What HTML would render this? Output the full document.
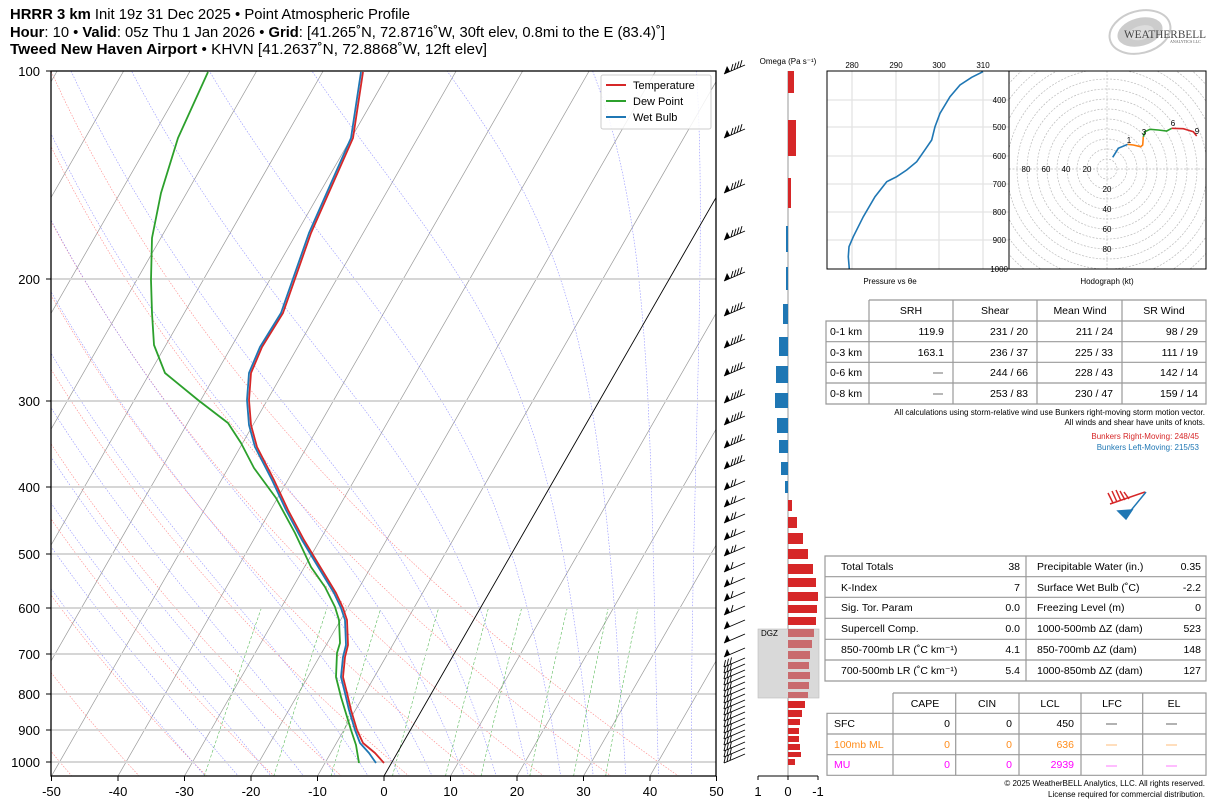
<!DOCTYPE html>
<html><head><meta charset="utf-8"><style>
html,body{margin:0;padding:0;background:#fff;}
svg{display:block;font-family:"Liberation Sans",sans-serif;}
</style></head><body>
<svg id="s" width="1226" height="808" viewBox="0 0 1226 808" xmlns="http://www.w3.org/2000/svg">
<defs>
<clipPath id="cp"><rect x="51" y="71" width="665" height="705"/></clipPath>
<clipPath id="ct"><rect x="827" y="71" width="182" height="198"/></clipPath>
<clipPath id="ch"><rect x="1009" y="71" width="197" height="198"/></clipPath>
</defs>
<rect width="1226" height="808" fill="#fff"/>
<!-- header -->
<text x="10" y="19" font-size="14.5" textLength="400" lengthAdjust="spacingAndGlyphs"><tspan font-weight="bold">HRRR 3 km</tspan> Init 19z 31 Dec 2025 • Point Atmospheric Profile</text>
<text x="10" y="37" font-size="14.5" textLength="655" lengthAdjust="spacingAndGlyphs"><tspan font-weight="bold">Hour</tspan>: 10 • <tspan font-weight="bold">Valid</tspan>: 05z Thu 1 Jan 2026 • <tspan font-weight="bold">Grid</tspan>: [41.265˚N, 72.8716˚W, 30ft elev, 0.8mi to the E (83.4)˚]</text>
<text x="10" y="54" font-size="14.5" textLength="477" lengthAdjust="spacingAndGlyphs"><tspan font-weight="bold">Tweed New Haven Airport</tspan> • KHVN [41.2637˚N, 72.8868˚W, 12ft elev]</text>
<!-- logo -->
<ellipse cx="1140" cy="32" rx="31" ry="21" fill="none" stroke="#ccc" stroke-width="2" transform="rotate(-15 1140 32)"/>
<ellipse cx="1140" cy="32" rx="23" ry="14" fill="#aaa" opacity="0.6" transform="rotate(-15 1140 32)"/>
<ellipse cx="1141" cy="33" rx="13" ry="7" fill="#ddd" transform="rotate(-15 1140 32)"/>
<text x="1124" y="38" font-family="Liberation Serif,serif" font-size="12" fill="#444" textLength="82" lengthAdjust="spacingAndGlyphs">WEATHERBELL</text>
<text x="1170" y="43" font-family="Liberation Serif,serif" font-size="4" fill="#555">ANALYTICS LLC</text>

<!-- skew-T background -->
<g id="bg" clip-path="url(#cp)"></g>
<g stroke="#d6d6d6" stroke-width="2">
<line x1="51" x2="716" y1="279" y2="279"/><line x1="51" x2="716" y1="401" y2="401"/><line x1="51" x2="716" y1="487" y2="487"/>
<line x1="51" x2="716" y1="554" y2="554"/><line x1="51" x2="716" y1="608" y2="608"/><line x1="51" x2="716" y1="654" y2="654"/>
<line x1="51" x2="716" y1="694" y2="694"/><line x1="51" x2="716" y1="730" y2="730"/><line x1="51" x2="716" y1="762" y2="762"/>
</g>
<g id="iso" clip-path="url(#cp)"></g>
<!-- profiles -->
<g fill="none" stroke-width="1.8" stroke-linejoin="round" clip-path="url(#cp)">
<polyline stroke="#2ca02c" points="208,72 178,138 161,193 152,238 151,280 152,313 154,345 165,373 198,400 228,423 241,443 254,468 276,498 295,533 311,567 325,587 335,607 339,620 340,643 337,653 336,677 341,697 351,730 356,745 359,763"/>
<polyline stroke="#d62728" points="363,72 353,138 330,190 311,233 283,313 262,347 251,373 249,400 251,425 257,447 274,480 288,510 304,540 316,560 336,593 343,608 347,620 348,645 345,657 343,677 347,693 351,710 357,730 363,743 375,753 384,763"/>
<polyline stroke="#1f77b4" points="361,72 351,138 328,190 309,233 281,313 260,347 249,373 247,400 249,425 255,447 272,480 286,510 302,540 314,560 334,593 341,608 345,620 346,645 343,657 341,677 345,693 349,710 355,730 360,743 369,753 376,763"/>
</g>
<rect x="51" y="71" width="665" height="705" fill="none" stroke="#000" stroke-width="1.3"/>
<!-- legend -->
<rect x="601" y="75" width="110" height="54" rx="2" fill="#fff" fill-opacity="0.85" stroke="#ccc"/>
<line x1="606" x2="626" y1="85" y2="85" stroke="#d62728" stroke-width="2"/>
<line x1="606" x2="626" y1="101" y2="101" stroke="#2ca02c" stroke-width="2"/>
<line x1="606" x2="626" y1="117" y2="117" stroke="#1f77b4" stroke-width="2"/>
<g font-size="11"><text x="633" y="89">Temperature</text><text x="633" y="105">Dew Point</text><text x="633" y="121">Wet Bulb</text></g>
<!-- axis labels -->
<g font-size="13" text-anchor="end">
<text x="40" y="76">100</text><text x="40" y="284">200</text><text x="40" y="406">300</text><text x="40" y="492">400</text>
<text x="40" y="559">500</text><text x="40" y="613">600</text><text x="40" y="659">700</text><text x="40" y="699">800</text>
<text x="40" y="735">900</text><text x="40" y="767">1000</text>
</g>
<g stroke="#000"><line x1="46" x2="51" y1="71" y2="71"/><line x1="46" x2="51" y1="279" y2="279"/><line x1="46" x2="51" y1="401" y2="401"/><line x1="46" x2="51" y1="487" y2="487"/><line x1="46" x2="51" y1="554" y2="554"/><line x1="46" x2="51" y1="608" y2="608"/><line x1="46" x2="51" y1="654" y2="654"/><line x1="46" x2="51" y1="694" y2="694"/><line x1="46" x2="51" y1="730" y2="730"/><line x1="46" x2="51" y1="762" y2="762"/></g>
<g id="xt" font-size="13" text-anchor="middle"></g>

<!-- wind barbs -->
<g id="barbs" stroke="#000" stroke-width="0.9" fill="#000"></g>

<!-- omega -->
<text x="788" y="64" font-size="8" text-anchor="middle">Omega (Pa s⁻¹)</text>
<line x1="788" x2="788" y1="71" y2="776" stroke="#ccc" stroke-width="2"/>
<rect x="758" y="629" width="61" height="69" fill="#d9d9d9" stroke="#bbb" stroke-width="0.6"/>
<text x="761" y="636" font-size="8">DGZ</text>
<g id="om"></g>
<line x1="758" x2="818" y1="776" y2="776" stroke="#000"/>
<g stroke="#000"><line x1="758" x2="758" y1="776" y2="780"/><line x1="788" x2="788" y1="776" y2="780"/><line x1="818" x2="818" y1="776" y2="780"/></g>
<g font-size="13" text-anchor="middle"><text x="758" y="796">1</text><text x="788" y="796">0</text><text x="818" y="796">-1</text></g>

<!-- theta-e inset -->
<g stroke="#e3e3e3" stroke-width="1.3">
<line x1="852" x2="852" y1="71" y2="269"/><line x1="896" x2="896" y1="71" y2="269"/><line x1="939" x2="939" y1="71" y2="269"/><line x1="983" x2="983" y1="71" y2="269"/>
<line x1="827" x2="1009" y1="100" y2="100"/><line x1="827" x2="1009" y1="127" y2="127"/><line x1="827" x2="1009" y1="156" y2="156"/><line x1="827" x2="1009" y1="184" y2="184"/><line x1="827" x2="1009" y1="212" y2="212"/><line x1="827" x2="1009" y1="240" y2="240"/>
</g>
<polyline clip-path="url(#ct)" fill="none" stroke="#1f77b4" stroke-width="1.6" points="983,71.7 971.7,77.3 960,85 950,96.7 940,113.3 935,126.7 931.7,140 926,148.3 916.7,161.7 906.7,170 896.7,176.7 886.7,181.7 875,196.7 863.3,216.7 853.3,236.7 849,246.7 848.3,256.7 849.3,269"/>
<g font-size="8" text-anchor="middle"><text x="852" y="68">280</text><text x="896" y="68">290</text><text x="939" y="68">300</text><text x="983" y="68">310</text>
<text x="890" y="284">Pressure vs θe</text><text x="1107" y="284">Hodograph (kt)</text></g>
<g font-size="8" text-anchor="end"><text x="1006" y="103">400</text><text x="1006" y="130">500</text><text x="1006" y="159">600</text><text x="1006" y="187">700</text><text x="1006" y="215">800</text><text x="1006" y="243">900</text><text x="1008" y="272">1000</text></g>
<g id="hod" clip-path="url(#ch)" fill="none" stroke="#bbb" stroke-width="0.7" stroke-dasharray="2,1.5"></g>
<g font-size="8" text-anchor="middle"><text x="1087" y="172">20</text><text x="1066" y="172">40</text><text x="1046" y="172">60</text><text x="1026" y="172">80</text>
<text x="1107" y="192">20</text><text x="1107" y="212">40</text><text x="1107" y="232">60</text><text x="1107" y="252">80</text></g>
<g fill="none" stroke-width="1.6">
<polyline stroke="#1f77b4" points="1112.7,157.3 1118.3,148.3 1127.7,144.3"/>
<polyline stroke="#ff7f0e" points="1127.7,144.3 1133.3,145 1140.7,146.7 1142.7,145 1143.3,136.7"/>
<polyline stroke="#2ca02c" points="1143.3,136.7 1145,131.7 1150,129.3 1158.3,130 1166.7,131 1171.7,128.3"/>
<polyline stroke="#d62728" points="1171.7,128.3 1183.3,128.7 1193.3,131.7 1196.7,136"/>
</g>
<g font-size="8" text-anchor="middle"><text x="1129" y="143">1</text><text x="1144" y="135">3</text><text x="1173" y="126">6</text><text x="1197" y="134">9</text></g>
<rect x="827" y="71" width="182" height="198" fill="none" stroke="#000"/>
<rect x="1009" y="71" width="197" height="198" fill="none" stroke="#000"/>

<!-- wind table -->
<g fill="none" stroke="#999" stroke-width="1.2">
<path d="M869,300 H1206 V404 H826 V321 H1206 M826,341.7 H1206 M826,362.3 H1206 M826,383 H1206 M869,300 V404 M953,300 V404 M1037,300 V404 M1122,300 V404"/>
</g>
<g font-size="10.5" text-anchor="middle"><text x="911" y="314">SRH</text><text x="995" y="314">Shear</text><text x="1080" y="314">Mean Wind</text><text x="1164" y="314">SR Wind</text></g>
<g font-size="10.5"><text x="830" y="335">0-1 km</text><text x="830" y="356">0-3 km</text><text x="830" y="376">0-6 km</text><text x="830" y="397">0-8 km</text></g>
<g font-size="10.5" text-anchor="end">
<text x="944" y="335">119.9</text><text x="1028" y="335">231 / 20</text><text x="1113" y="335">211 / 24</text><text x="1198" y="335">98 / 29</text>
<text x="944" y="356">163.1</text><text x="1028" y="356">236 / 37</text><text x="1113" y="356">225 / 33</text><text x="1198" y="356">111 / 19</text>
<text x="1028" y="376">244 / 66</text><text x="1113" y="376">228 / 43</text><text x="1198" y="376">142 / 14</text>
<text x="1028" y="397">253 / 83</text><text x="1113" y="397">230 / 47</text><text x="1198" y="397">159 / 14</text>
</g>
<g stroke="#888" stroke-width="1.2"><line x1="933" x2="943" y1="373" y2="373"/><line x1="933" x2="943" y1="394" y2="394"/></g>
<g font-size="8" text-anchor="end"><text x="1205" y="415">All calculations using storm-relative wind use Bunkers right-moving storm motion vector.</text>
<text x="1205" y="425">All winds and shear have units of knots.</text>
<text x="1199" y="439" fill="#d62728">Bunkers Right-Moving: 248/45</text><text x="1199" y="450" fill="#1f77b4">Bunkers Left-Moving: 215/53</text></g>
<!-- bunkers glyph -->
<g stroke="#d62728" stroke-width="1.5" fill="none"><path d="M1110,504 L1145,492 M1108,493 L1113,503 M1112,491 L1117,502 M1116,490 L1121,501 M1120,491 L1125,500 M1124,492 L1129,499"/></g>
<g stroke="#1f77b4" stroke-width="1.5" fill="#1f77b4"><path d="M1146,492 L1128,514" fill="none"/><path d="M1118,511 L1132,510 L1126,519 Z"/></g>

<!-- stats table -->
<g fill="none" stroke="#999" stroke-width="1.2">
<path d="M825,556 H1206 V681 H825 Z M825,576.7 H1206 M825,597.3 H1206 M825,618.3 H1206 M825,639.3 H1206 M825,660 H1206 M1026,556 V681"/>
</g>
<g font-size="10.5">
<text x="841" y="570">Total Totals</text><text x="841" y="591">K-Index</text><text x="841" y="611">Sig. Tor. Param</text><text x="841" y="632">Supercell Comp.</text><text x="841" y="653">850-700mb LR (˚C km⁻¹)</text><text x="841" y="674">700-500mb LR (˚C km⁻¹)</text>
<text x="1037" y="570">Precipitable Water (in.)</text><text x="1037" y="591">Surface Wet Bulb (˚C)</text><text x="1037" y="611">Freezing Level (m)</text><text x="1037" y="632">1000-500mb ΔZ (dam)</text><text x="1037" y="653">850-700mb ΔZ (dam)</text><text x="1037" y="674">1000-850mb ΔZ (dam)</text>
</g>
<g font-size="10.5" text-anchor="end">
<text x="1020" y="570">38</text><text x="1020" y="591">7</text><text x="1020" y="611">0.0</text><text x="1020" y="632">0.0</text><text x="1020" y="653">4.1</text><text x="1020" y="674">5.4</text>
<text x="1201" y="570">0.35</text><text x="1201" y="591">-2.2</text><text x="1201" y="611">0</text><text x="1201" y="632">523</text><text x="1201" y="653">148</text><text x="1201" y="674">127</text>
</g>
<!-- parcel table -->
<g fill="none" stroke="#999" stroke-width="1.2">
<path d="M893,693 H1206 V775.3 H827 V713.3 H1206 M827,734 H1206 M827,754.7 H1206 M893,693 V775.3 M955.7,693 V775.3 M1019,693 V775.3 M1081,693 V775.3 M1142.7,693 V775.3"/>
</g>
<g font-size="10.5" text-anchor="middle"><text x="925" y="707">CAPE</text><text x="987" y="707">CIN</text><text x="1050" y="707">LCL</text><text x="1112" y="707">LFC</text><text x="1174" y="707">EL</text></g>
<g font-size="10.5"><text x="834" y="727">SFC</text><text x="834" y="748" fill="#ff8c1a">100mb ML</text><text x="834" y="768" fill="#ff00ff">MU</text></g>
<g font-size="10.5" text-anchor="end">
<text x="950" y="727">0</text><text x="1012" y="727">0</text><text x="1074" y="727">450</text>
<text x="950" y="748" fill="#ff8c1a">0</text><text x="1012" y="748" fill="#ff8c1a">0</text><text x="1074" y="748" fill="#ff8c1a">636</text>
<text x="950" y="768" fill="#ff00ff">0</text><text x="1012" y="768" fill="#ff00ff">0</text><text x="1074" y="768" fill="#ff00ff">2939</text>
</g>
<g stroke-width="1.3"><g stroke="#888"><line x1="1106" x2="1117" y1="724" y2="724"/><line x1="1166" x2="1177" y1="724" y2="724"/></g>
<g stroke="#ffcc99"><line x1="1106" x2="1117" y1="745" y2="745"/><line x1="1166" x2="1177" y1="745" y2="745"/></g>
<g stroke="#ff99ff"><line x1="1106" x2="1117" y1="766" y2="766"/><line x1="1166" x2="1177" y1="766" y2="766"/></g></g>
<g font-size="8" text-anchor="end"><text x="1205" y="786">© 2025 WeatherBELL Analytics, LLC. All rights reserved.</text><text x="1205" y="797">License required for commercial distribution.</text></g>
</svg>
<script>
(function(){
var NS="http://www.w3.org/2000/svg";
function Y(p){return 71+300*Math.log(p/100);}
function X(T,p){return 384+6.65*T+0.574*(776-Y(p));}
function el(par,tag,a){var e=document.createElementNS(NS,tag);for(var k in a)e.setAttribute(k,a[k]);par.appendChild(e);return e;}
var bg=document.getElementById('bg'), iso=document.getElementById('iso');
// isotherms
for(var T=-160;T<=60;T+=10){
  el(T==0?iso:bg,'line',{x1:X(T,1050),y1:Y(1050),x2:X(T,100),y2:Y(100),stroke:T==0?'#000':'#999','stroke-width':T==0?0.9:0.7});
}
// dry adiabats
for(var k=-10;k<=4;k++){
  var th=273.15+10*k, pts=[];
  for(var p=1050;p>=100;p-=10){pts.push(X(th*Math.pow(p/1000,0.2857)-273.15,p).toFixed(1)+','+Y(p).toFixed(1));}
  el(bg,'polyline',{points:pts.join(' '),fill:'none',stroke:'#f66','stroke-width':0.6,'stroke-dasharray':'1.5,1.5',opacity:0.8});
}
// moist adiabats
function es(T){return 6.112*Math.exp(17.67*(T-273.15)/(T-29.65));}
function dTdp(T,p){var e=es(T),rs=0.622*e/Math.max(p-e,1);var Rd=287.04,Cp=1005.7,Lv=2.501e6;
 return (Rd*T+Lv*rs)/(Cp+Lv*Lv*rs*0.622/(Rd*T*T))/p;}
for(var t0=-30;t0<=45;t0+=5){
  var T=273.15+t0, p=1000, up=[];
  while(p>=100){up.push(X(T-273.15,p).toFixed(1)+','+Y(p).toFixed(1)); var dp=-2; T+=dTdp(T,p)*dp; p+=dp; if(T<150)break;}
  var T2=273.15+t0,p2=1000,dn=[];
  while(p2<1052){T2+=dTdp(T2,p2)*2;p2+=2;dn.push(X(T2-273.15,p2).toFixed(1)+','+Y(p2).toFixed(1));}
  el(bg,'polyline',{points:dn.reverse().concat(up).join(' '),fill:'none',stroke:'#77f','stroke-width':0.6,'stroke-dasharray':'1.5,1.5',opacity:0.8});
}
// mixing ratio
[0.4,1,2,4,7,10,16,24,32].forEach(function(w){
  var pts=[];
  for(var p=1050;p>=600;p-=10){var e=w*p/(622+w),l=Math.log(e/6.112);var Td=243.5*l/(17.67-l);pts.push(X(Td,p).toFixed(1)+','+Y(p).toFixed(1));}
  el(bg,'polyline',{points:pts.join(' '),fill:'none',stroke:'#3a3','stroke-width':0.6,'stroke-dasharray':'3,2',opacity:0.8});
});
// x ticks
var xt=document.getElementById('xt');
for(var t=-50;t<=50;t+=10){var x=384+6.65*t;el(xt,'line',{x1:x,x2:x,y1:776,y2:781,stroke:'#000'});var tx=el(xt,'text',{x:x,y:796});tx.textContent=t;}
// barbs
var bb=document.getElementById('barbs');
var ys=[71,135,190,237,278,313,345,373,400,422,445,466,487,504,520,537,553,569,584,598,612,626,640,654];
for(var y=664;y<=760;y+=6)ys.push(y);
ys.forEach(function(y,i){
  var x0=724,y0=y+3,x1=745,y1=y-6;
  el(bb,'line',{x1:x0,y1:y0,x2:x1,y2:y1});
  var nt;
  if(y<660){
    el(bb,'polygon',{points:x0+','+y0+' '+(x0+3)+','+(y0-8)+' '+(x0+6)+','+(y0-2.6),stroke:'none'});
    nt= y<470?4:(y<560?2:(y<620?1:0));
    for(var j=0;j<nt;j++){var bx=x0+7+j*3,by=y0-(bx-x0)*9/21;el(bb,'line',{x1:bx,y1:by,x2:bx+2,y2:by-7});}
  } else {
    nt=3;
    for(var j=0;j<nt;j++){var bx=x0+j*3,by=y0-(bx-x0)*9/21;el(bb,'line',{x1:bx,y1:by,x2:bx+1.5,y2:by-7});}
  }
});
// omega bars
var om=document.getElementById('om');
var bars=[[71,93,794,'r'],[120,156,796,'r'],[178,208,791,'r'],[226,252,786,'b'],[267,290,786,'b'],[304,324,783,'b'],[337,356,779,'b'],[366,383,776,'b'],[393,408,775,'b'],[418,433,777,'b'],[440,453,779,'b'],[462,475,781,'b'],[481,493,785,'b'],
[500,511,792,'r'],[517,528,797,'r'],[533,544,803,'r'],[549,559,808,'r'],[564,574,813,'r'],[578,587,816,'r'],[592,601,818,'r'],[605,613,817,'r'],[617,625,816,'r'],
[629,637,814,'d'],[640,648,812,'d'],[651,659,810,'d'],[662,669,809,'d'],[672,679,810,'d'],[682,689,809,'d'],[692,698,808,'d'],
[701,708,805,'r'],[710,717,802,'r'],[719,725,800,'r'],[728,734,799,'r'],[736,742,799,'r'],[744,750,800,'r'],[752,757,801,'r'],[759,765,795,'r']];
bars.forEach(function(b){var x=Math.min(788,b[2]),w=Math.abs(b[2]-788);
 el(om,'rect',{x:x,y:b[0],width:w,height:b[1]-b[0],fill:b[3]=='r'?'#d62728':(b[3]=='b'?'#1f77b4':'#c96b6e')});});
// hodograph rings
var hod=document.getElementById('hod');
for(var r=10;r<=150;r+=10)el(hod,'circle',{cx:1107,cy:169,r:r});
el(hod,'line',{x1:1009,x2:1206,y1:169,y2:169});el(hod,'line',{x1:1107,x2:1107,y1:71,y2:269});
})();
</script>
</body></html>
